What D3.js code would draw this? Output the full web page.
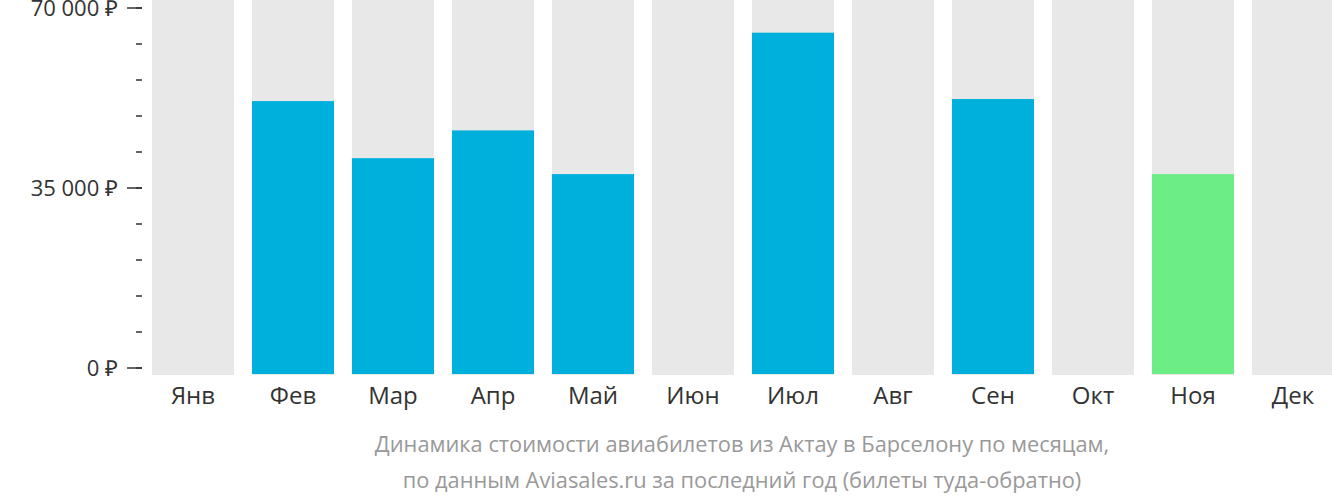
<!DOCTYPE html>
<html><head><meta charset="utf-8">
<script src="https://cdn.jsdelivr.net/npm/d3@7"></script>
<style>body{margin:0;background:#fff}text{font-family:"Open Sans",sans-serif}</style>
</head><body><svg id="c" width="1332" height="502"></svg>
<script>
const months = ["Янв","Фев","Мар","Апр","Май","Июн","Июл","Авг","Сен","Окт","Ноя","Дек"];
const prices = [0, 51900, 40800, 46200, 37700, 0, 65200, 0, 52300, 0, 37700, 0];
const cheapest = "Ноя";
const majorTicks = [0, 35000, 70000];

const svg = d3.select("#c");
const x = d3.scaleBand().domain(months).range([143, 1343]).paddingInner(0.18).paddingOuter(0.09);
const y = d3.scaleLinear().domain([0, 70000]).range([368, 8]);

svg.selectAll("rect.bg").data(months).join("rect")
  .attr("x", d => x(d)).attr("width", x.bandwidth())
  .attr("y", 0).attr("height", 375).attr("fill", "#e8e8e8");

svg.selectAll("rect.v").data(months.map((m, i) => ({m, v: prices[i]})).filter(d => d.v > 0)).join("rect")
  .attr("x", d => x(d.m)).attr("width", x.bandwidth())
  .attr("y", d => y(d.v)).attr("height", d => 374 - y(d.v))
  .attr("fill", d => d.m === cheapest ? "#6ced86" : "#00b0dc");

const fmt = v => d3.format(",")(v).replace(/,/g, " ") + " ₽";
const minor = d3.range(0, 70001, 7000);
svg.selectAll("line.mi").data(minor).join("line")
  .attr("x1", 136).attr("x2", 142).attr("y1", d => y(d)).attr("y2", d => y(d))
  .attr("stroke", "#333").attr("stroke-width", 1.5);
svg.selectAll("line.ma").data(majorTicks).join("line")
  .attr("x1", 127).attr("x2", 142).attr("y1", d => y(d)).attr("y2", d => y(d))
  .attr("stroke", "#333").attr("stroke-width", 1.5);
svg.selectAll("text.yl").data(majorTicks).join("text")
  .attr("x", 118).attr("y", d => y(d)).attr("dy", "0.35em").attr("text-anchor", "end")
  .attr("font-size", 22).attr("fill", "#333").text(fmt);

svg.selectAll("text.xl").data(months).join("text")
  .attr("x", d => x(d) + x.bandwidth() / 2).attr("y", 404).attr("text-anchor", "middle")
  .attr("font-size", 24).attr("fill", "#333").text(d => d);

svg.selectAll("text.cap").data(["Динамика стоимости авиабилетов из Актау в Барселону по месяцам,",
  "по данным Aviasales.ru за последний год (билеты туда-обратно)"]).join("text")
  .attr("x", 742).attr("y", (d, i) => 452 + i * 36).attr("text-anchor", "middle")
  .attr("font-size", 21.8).attr("fill", "#999").text(d => d);
</script></body></html>
